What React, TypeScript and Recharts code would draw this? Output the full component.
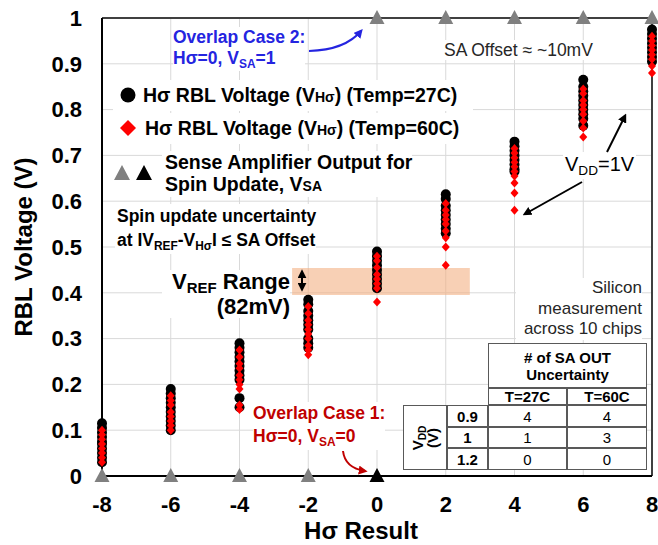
import React from 'react';
import {
  ScatterChart,
  Scatter,
  XAxis,
  YAxis,
  CartesianGrid,
  ReferenceArea,
  ReferenceLine,
} from 'recharts';

const FONT = "'Liberation Sans', Arial, Helvetica, sans-serif";

const H_RESULTS = [-8, -6, -4, -2, 0, 2, 4, 6, 8];
const Y_TICKS = [0, 0.1, 0.2, 0.3, 0.4, 0.5, 0.6, 0.7, 0.8, 0.9, 1];

// RBL voltage readings per Hσ result, Temp = 27C
const V_TEMP27 = [
  [0.115, 0.105, 0.095, 0.085, 0.075, 0.07, 0.06, 0.05, 0.04, 0.03],
  [0.19, 0.18, 0.17, 0.16, 0.15, 0.14, 0.13, 0.12, 0.11, 0.1],
  [0.29, 0.28, 0.27, 0.26, 0.25, 0.24, 0.23, 0.22, 0.21, 0.17, 0.15],
  [0.385, 0.375, 0.36, 0.35, 0.34, 0.33, 0.32, 0.3, 0.29, 0.28],
  [0.49, 0.48, 0.47, 0.46, 0.45, 0.44, 0.43, 0.42, 0.41],
  [0.615, 0.605, 0.59, 0.58, 0.57, 0.56, 0.55, 0.54, 0.53],
  [0.73, 0.72, 0.71, 0.7, 0.69, 0.68, 0.67, 0.665],
  [0.865, 0.85, 0.84, 0.83, 0.82, 0.81, 0.8, 0.79, 0.78, 0.765],
  [0.975, 0.965, 0.955, 0.945, 0.935, 0.925, 0.915, 0.905],
];

// RBL voltage readings per Hσ result, Temp = 60C
const V_TEMP60 = [
  [0.1, 0.09, 0.08, 0.07, 0.06, 0.05, 0.04, 0.03],
  [0.175, 0.165, 0.155, 0.14, 0.13, 0.12, 0.11, 0.1],
  [0.275, 0.26, 0.245, 0.235, 0.22, 0.21, 0.2, 0.19, 0.155, 0.145],
  [0.37, 0.355, 0.34, 0.33, 0.32, 0.31, 0.3, 0.285, 0.275, 0.265],
  [0.48, 0.47, 0.455, 0.44, 0.43, 0.42, 0.41, 0.38],
  [0.595, 0.58, 0.57, 0.56, 0.55, 0.535, 0.52, 0.5, 0.46],
  [0.715, 0.705, 0.695, 0.685, 0.675, 0.665, 0.655, 0.64, 0.618, 0.58],
  [0.845, 0.835, 0.82, 0.81, 0.8, 0.79, 0.775, 0.76, 0.74],
  [0.96, 0.95, 0.94, 0.93, 0.92, 0.91, 0.895, 0.88],
];

// sense amplifier output per Hσ result, plus the overlap point
const SA_OUT = [0, 0, 0, 0, 1, 1, 1, 1, 1];
const SA_OVERLAP_X = [0];
const SA_OVERLAP_Y = [0];

// VREF range band
const VREF_LOW = 0.395;
const VREF_HIGH = 0.454;
const VREF_X = [-2.47, 2.7];

// silicon table
const TABLE_VDD = ['0.9', '1', '1.2'];
const TABLE_27C = [4, 1, 0];
const TABLE_60C = [4, 3, 0];

const pts27 = H_RESULTS.flatMap((h, i) => V_TEMP27[i].map((v) => ({ x: h, y: v })));
const pts60 = H_RESULTS.flatMap((h, i) => V_TEMP60[i].map((v) => ({ x: h, y: v })));
const saPts = H_RESULTS.map((h, i) => ({ x: h, y: SA_OUT[i] }));
const saOverlapPts = SA_OVERLAP_X.map((h, i) => ({ x: h, y: SA_OVERLAP_Y[i] }));

const BLUE = '#2424E0';
const DARK_RED = '#C00000';
const GRAY_TRI = '#808080';

const blackDot = (p: any) => <circle cx={p.cx} cy={p.cy} r={5} fill="#000" />;
const redDiamond = (p: any) => (
  <path d={`M${p.cx},${p.cy - 4.5}L${p.cx + 4},${p.cy}L${p.cx},${p.cy + 4.5}L${p.cx - 4},${p.cy}Z`} fill="#FF0000" />
);
const triangle = (color: string) => (p: any) => (
  <path d={`M${p.cx},${p.cy - 8}L${p.cx + 7.5},${p.cy + 6}L${p.cx - 7.5},${p.cy + 6}Z`} fill={color} />
);

const Sub = ({ children }: { children: React.ReactNode }) => (
  <span style={{ fontSize: '0.68em', position: 'relative', top: '0.3em' }}>{children}</span>
);
const Small = ({ children }: { children: React.ReactNode }) => (
  <span style={{ fontSize: '0.72em' }}>{children}</span>
);

function Note({ style, children }: { style: React.CSSProperties; children: React.ReactNode }) {
  return (
    <div style={{ position: 'absolute', background: '#fff', whiteSpace: 'nowrap', ...style }}>{children}</div>
  );
}

const cell: React.CSSProperties = {
  border: '1px solid #595959',
  background: '#fff',
  display: 'flex',
  alignItems: 'center',
  justifyContent: 'center',
  fontSize: 15,
  lineHeight: '17px',
  color: '#000',
};

function SaTable() {
  return (
    <div
      style={{
        position: 'absolute',
        left: 403,
        top: 343,
        display: 'grid',
        gridTemplateColumns: '44px 41px 79px 80px',
        gridTemplateRows: '45px 17px 22px 21px 22px',
        fontFamily: FONT,
      }}
    >
      <div style={{ ...cell, gridColumn: '3 / 5', gridRow: '1', fontWeight: 700, textAlign: 'center' }}>
        # of SA OUT
        <br />
        Uncertainty
      </div>
      <div style={{ ...cell, gridColumn: '3', gridRow: '2', fontWeight: 700 }}>T=27C</div>
      <div style={{ ...cell, gridColumn: '4', gridRow: '2', fontWeight: 700 }}>T=60C</div>
      <div style={{ ...cell, gridColumn: '1', gridRow: '3 / 6' }}>
        <div style={{ transform: 'rotate(-90deg)', fontWeight: 700, lineHeight: '13px', textAlign: 'center' }}>
          V<Sub>DD</Sub>
          <br />
          (V)
        </div>
      </div>
      {TABLE_VDD.map((v, i) => (
        <React.Fragment key={v}>
          <div style={{ ...cell, gridColumn: '2', gridRow: String(3 + i), fontWeight: 700 }}>{v}</div>
          <div style={{ ...cell, gridColumn: '3', gridRow: String(3 + i) }}>{TABLE_27C[i]}</div>
          <div style={{ ...cell, gridColumn: '4', gridRow: String(3 + i) }}>{TABLE_60C[i]}</div>
        </React.Fragment>
      ))}
    </div>
  );
}

const yTitle = (props: any) => {
  const vb = props.viewBox;
  const x = vb.x + 32;
  const y = vb.y + vb.height / 2;
  return (
    <text x={x} y={y} transform={`rotate(-90 ${x} ${y})`} textAnchor="middle" fontSize={24} fontWeight={700} fontFamily={FONT} fill="#000">
      RBL Voltage (V)
    </text>
  );
};

const xTitle = (props: any) => {
  const vb = props.viewBox;
  return (
    <text x={vb.x + vb.width / 2 - 16} y={vb.y + 63} textAnchor="middle" fontSize={24} fontWeight={700} fontFamily={FONT} fill="#000">
      Hσ Result
    </text>
  );
};

export default function App() {
  const tickStyle = { fontSize: 22, fontWeight: 700, fill: '#000', fontFamily: FONT };
  return (
    <div style={{ position: 'absolute', left: 0, top: 0, width: 658, height: 545, background: '#fff', fontFamily: FONT, color: '#000' }}>
      <ScatterChart width={658} height={545} margin={{ top: 18, right: 6, bottom: 0, left: 0 }}>
        <CartesianGrid stroke="#d9d9d9" strokeWidth={1} />
        <XAxis
          type="number"
          dataKey="x"
          domain={[-8, 8]}
          ticks={H_RESULTS}
          height={69}
          tick={tickStyle}
          tickLine={false}
          tickSize={0}
          tickMargin={20}
          axisLine={{ stroke: '#000', strokeWidth: 2 }}
          label={xTitle}
        />
        <YAxis
          type="number"
          dataKey="y"
          domain={[0, 1]}
          ticks={Y_TICKS}
          width={102}
          tick={tickStyle}
          tickLine={false}
          tickSize={0}
          tickMargin={20}
          axisLine={{ stroke: '#000', strokeWidth: 2 }}
          label={yTitle}
        />
        <ReferenceLine y={1} stroke="#404040" strokeWidth={2} />
        <ReferenceLine x={8} stroke="#404040" strokeWidth={2} />
        <Scatter data={pts27} shape={blackDot} isAnimationActive={false} />
        <Scatter data={pts60} shape={redDiamond} isAnimationActive={false} />
        <Scatter data={saPts} shape={triangle(GRAY_TRI)} isAnimationActive={false} />
        <Scatter data={saOverlapPts} shape={triangle('#000')} isAnimationActive={false} />
        <ReferenceArea x1={VREF_X[0]} x2={VREF_X[1]} y1={VREF_LOW} y2={VREF_HIGH} fill="#F4B183" fillOpacity={0.6} stroke="none" />
      </ScatterChart>

      {/* annotations */}
      <Note style={{ left: 173, top: 27, color: BLUE, fontWeight: 700, fontSize: 17.5, lineHeight: '21px' }}>
        Overlap Case 2:
        <br />
        Hσ=0, V<Sub>SA</Sub>=1
      </Note>
      <Note style={{ left: 444, top: 40, color: '#262626', fontSize: 17.5, lineHeight: '20px' }}>SA Offset ≈ ~10mV</Note>

      <Note style={{ left: 113, top: 80, width: 360, height: 31, fontWeight: 700, fontSize: 19.5, lineHeight: '31px' }}>
        <svg width={18} height={18} style={{ position: 'absolute', left: 6, top: 6 }}>
          <circle cx={9} cy={9} r={7.5} fill="#000" />
        </svg>
        <span style={{ position: 'absolute', left: 30 }}>
          Hσ RBL Voltage (V<Small>Hσ</Small>) (Temp=27C)
        </span>
      </Note>
      <Note style={{ left: 113, top: 113, width: 360, height: 31, fontWeight: 700, fontSize: 19.5, lineHeight: '31px' }}>
        <svg width={18} height={18} style={{ position: 'absolute', left: 6, top: 6 }}>
          <path d="M9,1L17,9L9,17L1,9Z" fill="#FF0000" />
        </svg>
        <span style={{ position: 'absolute', left: 32 }}>
          Hσ RBL Voltage (V<Small>Hσ</Small>) (Temp=60C)
        </span>
      </Note>
      <div style={{ position: 'absolute', left: 113, top: 164 }}>
        <svg width={44} height={18}>
          <path d="M9,1L17,16L1,16Z" fill={GRAY_TRI} />
          <path d="M31,1L39,16L23,16Z" fill="#000" />
        </svg>
      </div>
      <Note style={{ left: 162, top: 151, fontWeight: 700, fontSize: 19.5, lineHeight: '22px', paddingLeft: 3 }}>
        Sense Amplifier Output for
        <br />
        Spin Update, V<Small>SA</Small>
      </Note>

      <Note style={{ left: 115, top: 204, fontWeight: 700, fontSize: 17.5, lineHeight: '24px', paddingLeft: 2 }}>
        Spin update uncertainty
        <br />
        at IV<Sub>REF</Sub>-V<Sub>Hσ</Sub>I ≤ SA Offset
      </Note>

      <Note style={{ left: 162, top: 270, width: 128, textAlign: 'right', fontWeight: 700, fontSize: 22, lineHeight: '23px' }}>
        V<Sub>REF</Sub> Range
        <br />
        (82mV)
      </Note>

      <Note style={{ left: 253, top: 402, color: DARK_RED, fontWeight: 700, fontSize: 17.5, lineHeight: '23px' }}>
        Overlap Case 1:
        <br />
        Hσ=0, V<Sub>SA</Sub>=0
      </Note>

      <Note style={{ left: 563, top: 152, fontSize: 20, lineHeight: '24px', padding: '0 2px' }}>
        V<Sub>DD</Sub>=1V
      </Note>

      <Note style={{ left: 516, top: 278, width: 126, textAlign: 'right', color: '#262626', fontSize: 17, lineHeight: '20.5px' }}>
        Silicon
        <br />
        measurement
        <br />
        across 10 chips
      </Note>

      <SaTable />

      <svg width={658} height={545} style={{ position: 'absolute', left: 0, top: 0, pointerEvents: 'none' }}>
        <defs>
          <marker id="ahBlue" viewBox="0 0 10 10" refX="7" refY="5" markerWidth="4.5" markerHeight="4.5" orient="auto">
            <path d="M0,0L10,5L0,10Z" fill={BLUE} />
          </marker>
          <marker id="ahRed" viewBox="0 0 10 10" refX="7" refY="5" markerWidth="4.5" markerHeight="4.5" orient="auto">
            <path d="M0,0L10,5L0,10Z" fill={DARK_RED} />
          </marker>
          <marker id="ahBlack" viewBox="0 0 10 10" refX="7" refY="5" markerWidth="4.5" markerHeight="4.5" orient="auto-start-reverse">
            <path d="M0,0L10,5L0,10Z" fill="#000" />
          </marker>
        </defs>
        <path d="M309,51 Q345,50 361,31" stroke={BLUE} strokeWidth={2} fill="none" markerEnd="url(#ahBlue)" />
        <path d="M343,451 Q345,468 365,471" stroke={DARK_RED} strokeWidth={2} fill="none" markerEnd="url(#ahRed)" />
        <line x1={607} y1={152} x2={625} y2={116} stroke="#000" strokeWidth={2} markerEnd="url(#ahBlack)" />
        <line x1={582} y1={182} x2={525} y2={214} stroke="#000" strokeWidth={2} markerEnd="url(#ahBlack)" />
        <line x1={302} y1={272} x2={302} y2={289} stroke="#000" strokeWidth={2} markerStart="url(#ahBlack)" markerEnd="url(#ahBlack)" />
      </svg>
    </div>
  );
}
